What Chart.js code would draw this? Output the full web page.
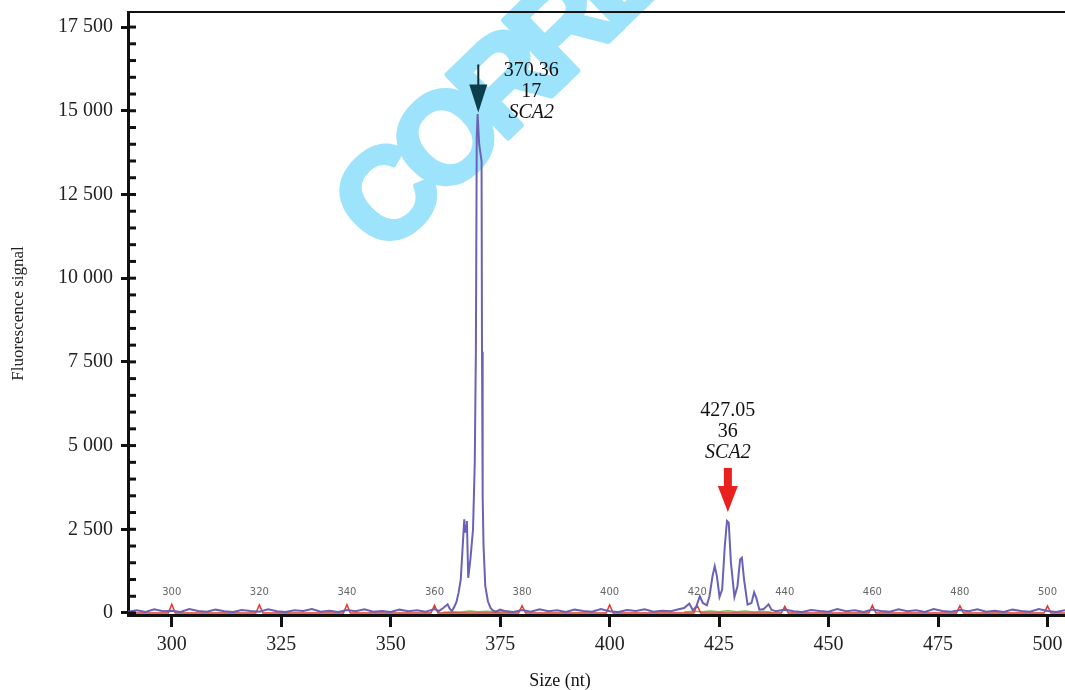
<!DOCTYPE html>
<html>
<head>
<meta charset="utf-8">
<script src="https://cdn.jsdelivr.net/npm/chart.js@4/dist/chart.umd.min.js"></script>
<style>
  body { margin: 0; background: #fff; }
  #wrap { width: 1065px; height: 690px; }
</style>
</head>
<body>
<div id="wrap"><canvas id="c" width="1065" height="690"></canvas></div>
<script>
const sizeNt = [290,292,294,296,298,300,302,304,306,308,310,312,314,316,318,320,322,324,326,328,330,332,334,336,338,340,342,344,346,348,350,352,354,356,358,360,361,362,
  363,363.5,364,364.5,365,365.5,366,366.4,366.8,367,367.2,367.4,367.7,368.2,368.8,369.2,369.45,369.65,369.85,370.2,370.75,370.85,371,371.2,371.6,372.2,372.8,373.3,374,375,
  376,378,380,382,384,386,388,390,392,394,396,398,400,402,404,406,408,410,412,414,416,
  417,418.2,419,419.8,420.6,421.3,422.2,422.8,423.5,424,424.5,425.1,425.7,426.3,426.8,427.2,427.7,428.5,429.2,429.8,430.2,430.7,431.5,432.4,433,433.5,434.2,435.2,436.3,437,438,
  440,442,444,446,448,450,452,454,456,458,460,462,464,466,468,470,472,474,476,478,480,482,484,486,488,490,492,494,496,498,500,502,504]
const signal = [40,80,30,110,50,70,30,120,60,40,100,50,30,90,60,40,110,50,30,80,60,120,40,70,30,90,50,110,40,60,30,100,50,80,40,120,60,150,
  260,120,60,180,320,600,1000,1900,2800,2400,2600,2750,1050,1600,2500,4500,7800,14200,14900,14000,13500,7800,3500,2000,800,350,150,80,40,100,
  60,30,90,40,110,50,80,30,100,60,40,120,50,30,90,60,110,40,70,50,120,
  150,280,80,200,500,300,230,500,1100,1400,1100,480,700,2000,2750,2700,1500,480,800,1600,1650,1000,250,300,620,450,100,120,260,90,50,
  100,50,30,90,60,40,120,50,80,30,100,60,40,110,50,80,30,120,60,40,90,50,110,40,70,30,100,60,40,120,60,30,80]

// escalera de tamaños (rojo)
const ladderX = [290,299.2,300,300.8,319.2,320,320.8,339.2,340,340.8,359.2,360,360.8,379.2,380,380.8,399.2,400,400.8,419.2,420,420.8,439.2,440,440.8,459.2,460,460.8,479.2,480,480.8,499.2,500,500.8,504]
const ladderY = [0,0,260,0,0,240,0,0,250,0,0,230,0,0,220,0,0,240,0,0,230,0,0,200,0,0,230,0,0,220,0,0,210,0,0]
const ladderLabels = ['300','320','340','360','380','400','420','440','460','480','500']
const ladderPos = [300,320,340,360,380,400,420,440,460,480,500]

// canal verde
const greenX = [362,364,366,368,370,372,374,376,378,400,417,419,421,423,425,427,429,431,433,435,437]
const greenY = [20,40,30,60,40,50,30,60,20,null,30,50,40,60,40,70,40,60,30,50,20]

const xTicks = [300,325,350,375,400,425,450,475,500]
const yTicks = [0,500,1000,1500,2000,2500,3000,3500,4000,4500,5000,5500,6000,6500,7000,7500,8000,8500,9000,9500,10000,10500,11000,11500,12000,12500,13000,13500,14000,14500,15000,15500,16000,16500,17000,17500]

const peakSize = [370.0, 427.0]
const peakTip = [14950, 3020]
const peakLabels = [['370.36','17','SCA2'], ['427.05','36','SCA2']]

const fmt = v => v >= 1000 ? Math.floor(v / 1000) + ' ' + String(v % 1000).padStart(3, '0') : String(v)
const pts = (xs, ys) => xs.map((x, i) => ({ x: x, y: ys[i] }))
const noPad = s => { s.paddingTop = 0; s.paddingBottom = 0; s.paddingLeft = 0; s.paddingRight = 0 }

const extras = {
  id: 'extras',
  beforeDatasetsDraw(chart) {
    // marca de agua, letra por letra (debajo de las curvas)
    const ctx = chart.ctx
    ctx.save()
    ctx.translate(384, 258); ctx.rotate(-44 * Math.PI / 180)
    ctx.fillStyle = '#9de3fb'; ctx.strokeStyle = '#9de3fb'; ctx.lineWidth = 5; ctx.lineJoin = 'round'
    ctx.font = 'bold 128px "Liberation Sans"'
    ctx.textAlign = 'left'; ctx.textBaseline = 'alphabetic'
    let cx = 0
    'CORRECTED'.split('').forEach(ch => {
      ctx.fillText(ch, cx, 0); ctx.strokeText(ch, cx, 0)
      cx += ctx.measureText(ch).width - 14
    })
    ctx.restore()
  },
  afterDraw(chart) {
    const ctx = chart.ctx, a = chart.chartArea
    const xs = chart.scales.x, ys = chart.scales.y
    ctx.save()
    // borde superior
    ctx.strokeStyle = '#111'; ctx.lineWidth = 2
    ctx.beginPath(); ctx.moveTo(a.left, a.top); ctx.lineTo(chart.width, a.top); ctx.stroke()
    // ticks interiores del eje y
    ctx.lineWidth = 3
    yTicks.forEach(v => {
      const py = ys.getPixelForValue(v)
      ctx.beginPath(); ctx.moveTo(a.left, py); ctx.lineTo(a.left + 8, py); ctx.stroke()
    })
    // etiquetas de la escalera
    ctx.fillStyle = '#666'; ctx.font = '10px "DejaVu Sans"'; ctx.textAlign = 'center'; ctx.textBaseline = 'middle'
    ladderPos.forEach((p, i) => ctx.fillText(ladderLabels[i], xs.getPixelForValue(p), ys.getPixelForValue(620)))
    // flecha negra
    let px = xs.getPixelForValue(peakSize[0]), tip = ys.getPixelForValue(peakTip[0])
    ctx.strokeStyle = '#0b2f3a'; ctx.fillStyle = '#0b3f4c'; ctx.lineWidth = 2
    ctx.beginPath(); ctx.moveTo(px, tip - 48); ctx.lineTo(px, tip - 22); ctx.stroke()
    ctx.beginPath(); ctx.moveTo(px - 9, tip - 28); ctx.lineTo(px + 9, tip - 28); ctx.lineTo(px, tip); ctx.closePath(); ctx.fill()
    ctx.fillStyle = '#111'
    peakLabels[0].forEach((t, i) => {
      ctx.font = (i === 2 ? 'italic ' : '') + '20px "Liberation Serif"'
      ctx.fillText(t, px + 53, tip - 42 + i * 21)
    })
    // flecha roja
    px = xs.getPixelForValue(peakSize[1]); tip = ys.getPixelForValue(peakTip[1])
    ctx.fillStyle = '#e8201e'
    ctx.fillRect(px - 4, tip - 44, 8, 20)
    ctx.beginPath(); ctx.moveTo(px - 10, tip - 26); ctx.lineTo(px + 10, tip - 26); ctx.lineTo(px, tip); ctx.closePath(); ctx.fill()
    ctx.fillStyle = '#111'
    peakLabels[1].forEach((t, i) => {
      ctx.font = (i === 2 ? 'italic ' : '') + '20px "Liberation Serif"'
      ctx.fillText(t, px, tip - 101 + i * 21)
    })
    // título eje x
    ctx.font = '18px "Liberation Serif"'
    ctx.fillText('Size (nt)', 560, 681)
    ctx.restore()
  }
}

new Chart(document.getElementById('c'), {
  type: 'scatter',
  data: {
    datasets: [
      { data: pts(sizeNt, signal), showLine: true, borderColor: '#6a62b6', borderWidth: 2, pointRadius: 0, order: 1 },
      { data: pts(greenX, greenY), showLine: true, borderColor: '#6cc04a', borderWidth: 1.5, pointRadius: 0, order: 3 },
      { data: pts(ladderX, ladderY), showLine: true, borderColor: '#e23a2a', borderWidth: 1.5, pointRadius: 0, order: 2 }
    ]
  },
  options: {
    responsive: false,
    animation: false,
    layout: { padding: { top: 12, right: 0, left: 0, bottom: 0 } },
    plugins: { legend: { display: false }, tooltip: { enabled: false } },
    elements: { line: { tension: 0 } },
    scales: {
      x: {
        min: 290, max: 504,
        afterBuildTicks: s => { s.ticks = xTicks.map(v => ({ value: v })) },
        afterFit: s => { s.height = 75; noPad(s) },
        ticks: { color: '#222', font: { family: 'Liberation Serif', size: 20 }, padding: 6, maxRotation: 0 },
        grid: { drawOnChartArea: false, tickLength: 12, color: '#111', lineWidth: 3 },
        border: { color: '#111', width: 3 }
      },
      y: {
        min: -60, max: 17950,
        afterBuildTicks: s => { s.ticks = yTicks.map(v => ({ value: v })) },
        afterFit: s => { s.width = 128; noPad(s) },
        ticks: {
          color: '#222', font: { family: 'Liberation Serif', size: 20 }, padding: 8, autoSkip: false,
          callback: v => v % 2500 === 0 ? fmt(v) : ''
        },
        grid: {
          drawOnChartArea: false, tickLength: 7, lineWidth: 3,
          color: c => c.tick && c.tick.value % 2500 === 0 ? '#111' : 'rgba(0,0,0,0)'
        },
        border: { color: '#111', width: 3 },
        title: { display: true, text: 'Fluorescence signal', color: '#222', font: { family: 'Liberation Serif', size: 17 }, padding: { top: 8, bottom: 0 } }
      }
    }
  },
  plugins: [extras]
})
</script>
</body>
</html>
